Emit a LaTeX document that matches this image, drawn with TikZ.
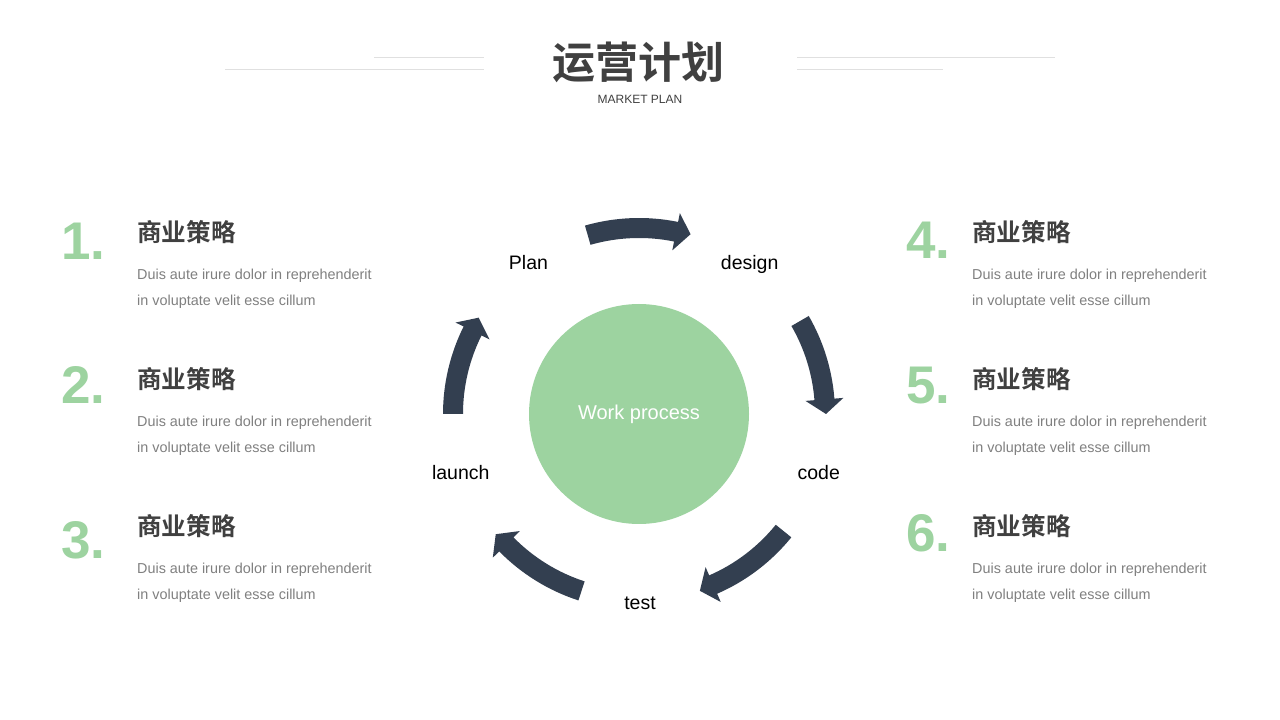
\documentclass[tikz,border=0pt]{standalone}
\usepackage{fontspec}
\setmainfont{Liberation Sans}
\newfontfamily\cjkbold{Noto Sans CJK SC Bold}
\definecolor{navy}{HTML}{333F50}
\definecolor{leaf}{HTML}{9DD3A0}
\definecolor{ink}{HTML}{404040}
\definecolor{muted}{HTML}{808080}
\definecolor{rulegray}{HTML}{E0E0E0}
\newcommand\cyclearrow[2]{%
  \fill[navy] (#1:196) arc[start angle=#1,end angle={#2+4.5},radius=196]
    -- ({#2+4.5}:205) -- (#2:187) -- ({#2+4.5}:167) -- ({#2+4.5}:176)
    arc[start angle={#2+4.5},end angle=#1,radius=176] -- cycle;}
\begin{document}
\begin{tikzpicture}[x=1pt,y=1pt,
  numstyle/.style={anchor=base west,inner sep=0,text=leaf,font=\fontsize{53}{53}\selectfont\bfseries},
  headstyle/.style={anchor=base west,inner sep=0,text=ink,font=\fontsize{24.6}{24.6}\selectfont\cjkbold},
  descstyle/.style={anchor=base west,inner sep=0,text=muted,font=\fontsize{14.4}{14.4}\selectfont},
  steplabel/.style={anchor=base,inner sep=0,text=black,font=\fontsize{19.5}{19.5}\selectfont},
  ruleline/.style={draw=rulegray,line width=1pt}]
\useasboundingbox (0,0) rectangle (1280,720);
\fill[white] (0,0) rectangle (1280,720);

% header
\node[anchor=base,inner sep=0,text=ink,font=\fontsize{43}{43}\selectfont\cjkbold] (title) at (638,641) {运营计划};
\node[anchor=base,inner sep=0,text=ink,font=\fontsize{12}{12}\selectfont] (subtitle) at (640,616) {MARKET PLAN};
\draw[ruleline] (225,650) -- (484,650);
\draw[ruleline] (374,662) -- (484,662);
\draw[ruleline] (797,662) -- (1055,662);
\draw[ruleline] (797,650) -- (943,650);

% centre
\node[circle,fill=leaf,minimum size=220pt,inner sep=0,text=white,font=\fontsize{20}{20}\selectfont] (core) at (639,306) {Work process};
\begin{scope}[shift={(639,306)}]
  \cyclearrow{106}{74}
  \cyclearrow{30}{0}
  \cyclearrow{-39}{-71}
  \cyclearrow{-108}{-140}
  \cyclearrow{180}{149}
\end{scope}
\node[steplabel] (plan) at (528.5,450) {Plan};
\node[steplabel] (design) at (749.7,450) {design};
\node[steplabel] (code) at (818.7,240) {code};
\node[steplabel] (test) at (640,110) {test};
\node[steplabel] (launch) at (460.8,240) {launch};

% left column
\node[numstyle] (n1) at (61,460.7) {1.};
\node[headstyle] (h1) at (137,478.4) {商业策略};
\node[descstyle] (d1a) at (137,440.5) {Duis aute irure dolor in reprehenderit};
\node[descstyle] (d1b) at (137,414.5) {in voluptate velit esse cillum};

\node[numstyle] (n2) at (61,316.7) {2.};
\node[headstyle] (h2) at (137,331.4) {商业策略};
\node[descstyle] (d2a) at (137,293.5) {Duis aute irure dolor in reprehenderit};
\node[descstyle] (d2b) at (137,267.5) {in voluptate velit esse cillum};

\node[numstyle] (n3) at (61,161.7) {3.};
\node[headstyle] (h3) at (137,184.4) {商业策略};
\node[descstyle] (d3a) at (137,146.5) {Duis aute irure dolor in reprehenderit};
\node[descstyle] (d3b) at (137,120.5) {in voluptate velit esse cillum};

% right column
\node[numstyle] (n4) at (906,461.7) {4.};
\node[headstyle] (h4) at (972,478.4) {商业策略};
\node[descstyle] (d4a) at (972,440.5) {Duis aute irure dolor in reprehenderit};
\node[descstyle] (d4b) at (972,414.5) {in voluptate velit esse cillum};

\node[numstyle] (n5) at (906,316.7) {5.};
\node[headstyle] (h5) at (972,331.4) {商业策略};
\node[descstyle] (d5a) at (972,293.5) {Duis aute irure dolor in reprehenderit};
\node[descstyle] (d5b) at (972,267.5) {in voluptate velit esse cillum};

\node[numstyle] (n6) at (906,168.3) {6.};
\node[headstyle] (h6) at (972,184.4) {商业策略};
\node[descstyle] (d6a) at (972,146.5) {Duis aute irure dolor in reprehenderit};
\node[descstyle] (d6b) at (972,120.5) {in voluptate velit esse cillum};
\end{tikzpicture}
\end{document}
